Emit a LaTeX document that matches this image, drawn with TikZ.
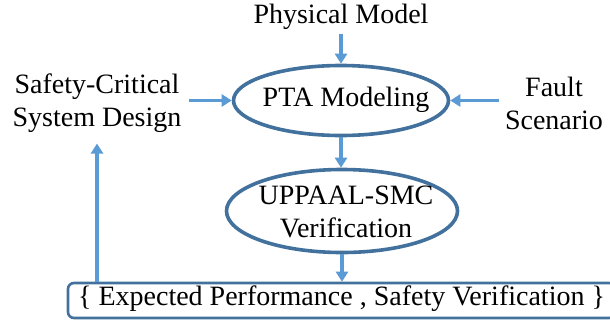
\documentclass[tikz,border=0pt]{standalone}
\usepackage{fontspec}
\setmainfont{Liberation Serif}
\newfontfamily\tnr{Liberation Serif}
\usetikzlibrary{arrows.meta,shapes.geometric,calc}
\definecolor{ellblue}{HTML}{41719C}
\definecolor{arrblue}{HTML}{5B9BD5}
\begin{document}
\begin{tikzpicture}[x=1pt,y=1pt,
  lbl/.style={font=\tnr\fontsize{28}{33}\selectfont, align=center, inner sep=1pt},
  ell/.style={ellipse, draw=ellblue, line width=3.6pt, inner sep=0pt},
  conn/.style={draw=arrblue, line width=3.5pt, -{Triangle[length=10pt,width=12pt]}, color=arrblue},
  resbox/.style={draw=ellblue, line width=2.6pt, rounded corners=6pt, inner sep=0pt}
]
\useasboundingbox (0,0) rectangle (610,-322);
\node[lbl] (pm) at (341,-17) {Physical Model};
\node[ell, minimum width=215, minimum height=70] (pta) at (341,-100.5) {};
\node[lbl] (ptatext) at (346,-99.5) {PTA Modeling};
\node[lbl] (scsd) at (97,-103) {Safety-Critical\\System Design};
\node[lbl] (fs) at (554,-103) {Fault\\Scenario};
\node[ell, minimum width=231, minimum height=83] (smc) at (342,-211) {};
\node[lbl] (smctext) at (346,-212) {UPPAAL-SMC\\Verification};
\node[resbox, minimum width=547, minimum height=35] (res) at (341.5,-300.5) {};
\node[lbl] (restext) at (341.5,-299) {\{ Expected Performance , Safety Verification \}};
\draw[conn] (pm.south -| pta) ++(0,-3) -- (pta.north);
\draw[conn] ($(scsd.east |- pta)+(6,0)$) -- (pta.west);
\draw[conn] ($(fs.west |- pta)+(-5,0)$) -- (pta.east);
\draw[conn] (pta.south) -- (pta.south |- smc.north);
\draw[conn] (smc.south) -- (smc.south |- res.north);
\draw[conn] (res.north -| scsd) -- ($(scsd.south)+(0,-10)$);
\end{tikzpicture}
\end{document}
